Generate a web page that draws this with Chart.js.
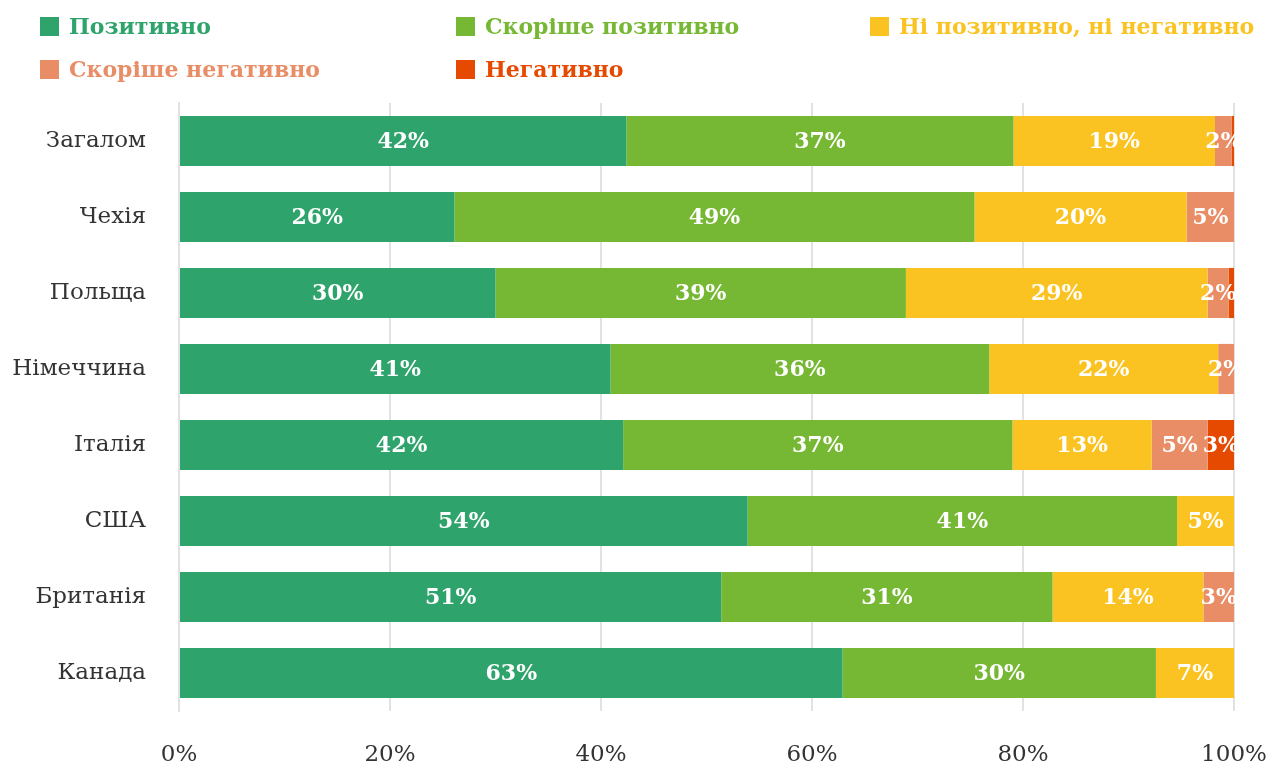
<!DOCTYPE html>
<html>
<head>
<meta charset="utf-8">
<script src="https://cdn.jsdelivr.net/npm/chart.js@4/dist/chart.umd.min.js"></script>
<style>
  html, body { margin: 0; padding: 0; background: #fff; }
  #wrap { position: relative; width: 1268px; height: 767px; }
  #legend { position: absolute; left: 0; top: 0; width: 1268px; height: 95px; font-family: "DejaVu Serif", serif; font-weight: bold; font-size: 22px; }
  .item { position: absolute; display: flex; align-items: center; white-space: nowrap; }
  .box { width: 19px; height: 19px; margin-right: 10px; }
</style>
</head>
<body>
<div id="wrap">
  <div id="legend"></div>
  <canvas id="graphic" width="1268" height="767"></canvas>
</div>
<script>
// categories
const countries = ['Загалом', 'Чехія', 'Польща', 'Німеччина', 'Італія', 'США', 'Британія', 'Канада'];

// series values, %
const positive     = [42.4, 26.1, 30.0, 40.9, 42.1, 53.9, 51.4, 62.9];
const ratherPos    = [36.7, 49.3, 38.9, 35.9, 36.9, 40.7, 31.4, 29.7];
const neutral      = [19.1, 20.1, 28.6, 21.7, 13.2, 5.4, 14.3, 7.4];
const ratherNeg    = [1.6, 4.5, 2.0, 1.5, 5.3, 0, 2.9, 0];
const negative     = [0.2, 0, 0.5, 0, 2.5, 0, 0, 0];

const seriesNames = ['Позитивно', 'Скоріше позитивно', 'Ні позитивно, ні негативно', 'Скоріше негативно', 'Негативно'];
const seriesData = [positive, ratherPos, neutral, ratherNeg, negative];
const colors = ['#2ea36b', '#76b833', '#fac322', '#e98d66', '#e64a00'];

// x axis ticks
const xTicks = [0, 20, 40, 60, 80, 100];

// html legend, laid out in three columns like the original
const legendPos = [[40, 27], [456, 27], [870, 27], [40, 70], [456, 70]];
const legendEl = document.getElementById('legend');
seriesNames.forEach((name, i) => {
  const it = document.createElement('div');
  it.className = 'item';
  it.style.left = legendPos[i][0] + 'px';
  it.style.top = (legendPos[i][1] - 14) + 'px';
  it.style.color = colors[i];
  it.innerHTML = '<span class="box" style="background:' + colors[i] + '"></span>' + name;
  legendEl.appendChild(it);
});

// value labels drawn in the middle of every segment
const barLabels = {
  id: 'barLabels',
  afterDatasetsDraw(chart) {
    const ctx = chart.ctx;
    ctx.save();
    ctx.font = 'bold 22px "DejaVu Serif"';
    ctx.fillStyle = '#fff';
    ctx.textAlign = 'center';
    ctx.textBaseline = 'middle';
    chart.data.datasets.forEach((ds, di) => {
      const meta = chart.getDatasetMeta(di);
      meta.data.forEach((bar, i) => {
        const v = ds.data[i];
        if (v < 1.5) return;
        const props = bar.getProps(['x', 'y', 'base'], true);
        ctx.fillText(Math.round(v) + '%', (props.x + props.base) / 2, props.y + 1);
      });
    });
    ctx.restore();
  }
};

const areaGraphic = document.getElementById('graphic');

const data = {
  labels: countries,
  datasets: seriesData.map((d, i) => ({
    label: seriesNames[i],
    data: d,
    backgroundColor: colors[i],
    borderWidth: 0,
    barPercentage: 0.66,
    categoryPercentage: 1
  }))
};

const config = {
  type: 'bar',
  data,
  options: {
    indexAxis: 'y',
    responsive: false,
    animation: false,
    layout: {
      padding: { top: 103, right: 34, bottom: 0 }
    },
    plugins: {
      legend: { display: false },
      tooltip: { enabled: false }
    },
    scales: {
      x: {
        stacked: true,
        min: 0,
        max: 100,
        afterBuildTicks: (scale) => { scale.ticks = xTicks.map(v => ({ value: v })); },
        afterFit: (scale) => {
          scale.height = 56;
          scale.paddingLeft = 0;
          scale.paddingRight = 0;
        },
        grid: { color: '#e2e2e2', lineWidth: 2, drawTicks: false },
        border: { display: false },
        ticks: {
          padding: 30,
          color: '#333',
          font: { family: 'DejaVu Serif', size: 23 },
          callback: (v) => v + '%'
        }
      },
      y: {
        stacked: true,
        afterFit: (scale) => { scale.width = 179; },
        grid: { display: false, drawTicks: false },
        border: { display: true, color: '#e2e2e2', width: 2 },
        ticks: {
          padding: 33,
          color: '#333',
          font: { family: 'DejaVu Serif', size: 23 }
        }
      }
    }
  },
  plugins: [barLabels]
};

const myGraphic = new Chart(areaGraphic, config);
</script>
</body>
</html>
